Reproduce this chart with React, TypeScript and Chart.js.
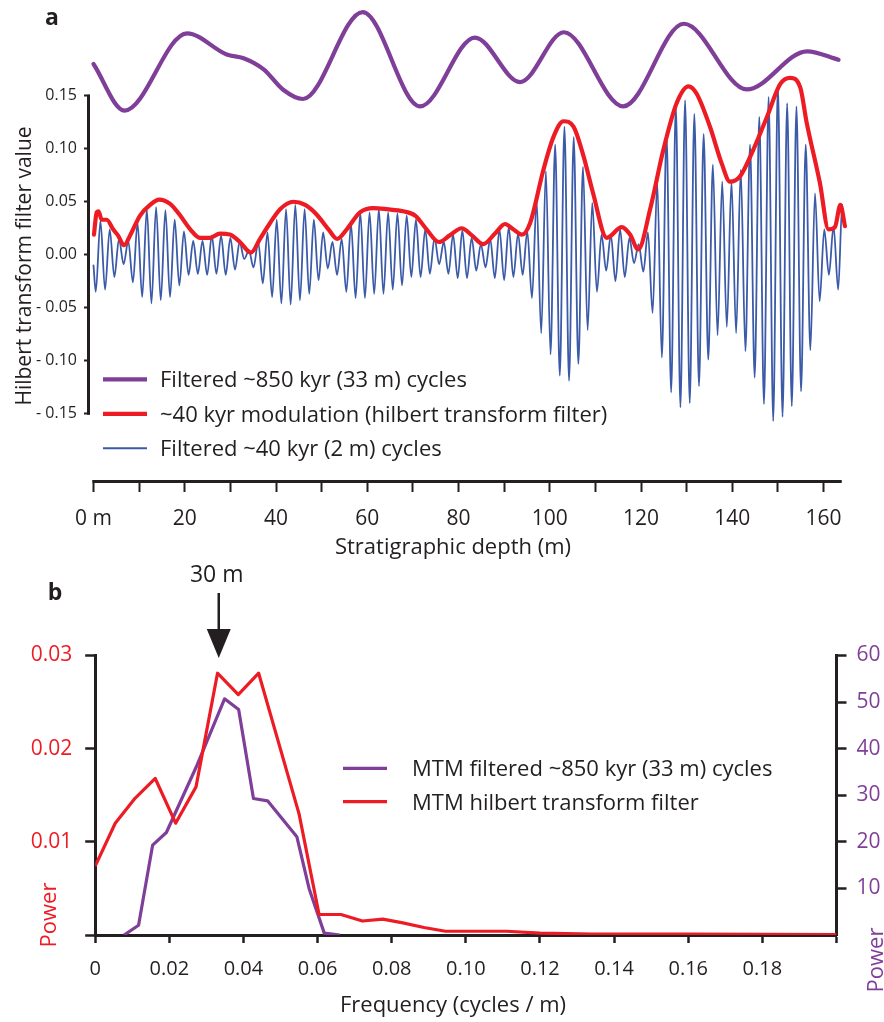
import React, { useEffect, useRef } from 'react';
import { Chart, registerables } from 'chart.js';

Chart.register(...registerables);

const INK = '#231f20';
const PURPLE = '#7f3f98';
const RED = '#ed1c24';
const BLUE = '#3b5aa8';
const FONT = '"Open Sans", Lato, "DejaVu Sans", sans-serif';

// ---------------- Panel a : filtered series vs stratigraphic depth ----------------
const purpleDepth = [0, 6.8, 20.5, 29.2, 32.9, 37.3, 41.5, 45.9, 59.0, 71.6, 83.6, 93.5, 103.1, 116.1, 129.4, 143.2, 156.4, 163.3];
const purpleValue = [0.180, 0.136, 0.209, 0.189, 0.1855, 0.175, 0.156, 0.147, 0.229, 0.140, 0.205, 0.163, 0.210, 0.140, 0.218, 0.156, 0.192, 0.184];

const redDepth = [0.1, 0.7, 1.1, 1.8, 2.9, 4.3, 5.4, 6.7, 8.0, 10.2, 12.4, 14.4, 16.8, 19.0, 21.2, 23.3, 25.5, 27.7, 29.9, 32.1, 34.5, 36.5, 38.7, 40.9, 43.8, 46.4, 48.9, 51.5, 53.4, 55.5, 58.4, 61.3, 64.3, 67.9, 70.5, 73.0, 75.7, 78.0, 80.7, 83.0, 85.4, 88.0, 90.2, 92.0, 93.9, 95.7, 98.6, 100.8, 103.0, 105.2, 107.4, 109.5, 112.5, 115.8, 117.6, 119.4, 122.0, 124.9, 127.8, 130.4, 132.2, 135.1, 137.7, 139.5, 141.7, 144.6, 147.6, 150.5, 152.7, 154.9, 156.3, 159.2, 161.1, 162.5, 163.7, 164.7];
const redValue = [0.019, 0.040, 0.041, 0.033, 0.033, 0.024, 0.018, 0.009, 0.018, 0.037, 0.047, 0.052, 0.048, 0.037, 0.024, 0.016, 0.016, 0.020, 0.019, 0.012, 0.002, 0.015, 0.030, 0.043, 0.050, 0.047, 0.038, 0.024, 0.015, 0.024, 0.040, 0.044, 0.043, 0.041, 0.037, 0.024, 0.012, 0.018, 0.025, 0.018, 0.010, 0.020, 0.029, 0.024, 0.019, 0.030, 0.080, 0.111, 0.126, 0.121, 0.093, 0.058, 0.016, 0.026, 0.019, 0.005, 0.043, 0.099, 0.143, 0.159, 0.152, 0.121, 0.086, 0.069, 0.074, 0.099, 0.130, 0.161, 0.167, 0.158, 0.125, 0.068, 0.024, 0.026, 0.047, 0.027];

const blueDepth = [0.00, 0.50, 1.52, 2.53, 3.55, 4.57, 5.59, 6.60, 7.62, 8.64, 9.65, 10.67, 11.69, 12.70, 13.72, 14.74, 15.76, 16.77, 17.79, 18.81, 19.82, 20.84, 21.86, 22.87, 23.89, 24.91, 25.93, 26.94, 27.96, 28.98, 29.99, 31.01, 32.03, 33.04, 34.06, 35.08, 36.10, 37.11, 38.13, 39.15, 40.16, 41.18, 42.20, 43.21, 44.23, 45.25, 46.27, 47.28, 48.30, 49.32, 50.33, 51.35, 52.37, 53.38, 54.40, 55.42, 56.44, 57.45, 58.47, 59.49, 60.50, 61.52, 62.54, 63.55, 64.57, 65.59, 66.61, 67.62, 68.64, 69.66, 70.67, 71.69, 72.71, 73.72, 74.74, 75.76, 76.78, 77.79, 78.81, 79.83, 80.84, 81.86, 82.88, 83.89, 84.91, 85.93, 86.95, 87.96, 88.98, 90.00, 91.01, 92.03, 93.05, 94.06, 95.08, 96.10, 97.12, 98.13, 99.15, 100.17, 101.18, 102.20, 103.22, 104.23, 105.25, 106.27, 107.29, 108.30, 109.32, 110.34, 111.35, 112.37, 113.39, 114.40, 115.42, 116.44, 117.46, 118.47, 119.49, 120.51, 121.52, 122.54, 123.56, 124.57, 125.59, 126.61, 127.63, 128.64, 129.66, 130.68, 131.69, 132.71, 133.73, 134.74, 135.76, 136.78, 137.80, 138.81, 139.83, 140.85, 141.86, 142.88, 143.90, 144.91, 145.93, 146.95, 147.97, 148.98, 150.00, 151.02, 152.03, 153.05, 154.07, 155.08, 156.10, 157.12, 158.14, 159.15, 160.17, 161.19, 162.20, 163.22, 164.10, 164.60];
const blueValue = [-0.010,
  -0.035, 0.032, -0.033, 0.024, -0.021, 0.015, -0.009, 0.013, -0.026, 0.030,
  -0.040, 0.043, -0.046, 0.045, -0.043, 0.042, -0.040, 0.033, -0.029, 0.022,
  -0.019, 0.013, -0.018, 0.013, -0.019, 0.018, -0.018, 0.018, -0.019, 0.016,
  -0.014, 0.012, -0.004, 0.004, -0.012, 0.012, -0.027, 0.021, -0.040, 0.033,
  -0.046, 0.043, -0.047, 0.047, -0.043, 0.043, -0.037, 0.033, -0.024, 0.021,
  -0.013, 0.012, -0.019, 0.015, -0.035, 0.029, -0.041, 0.040, -0.041, 0.040,
  -0.037, 0.043, -0.037, 0.040, -0.033, 0.039, -0.029, 0.037, -0.021, 0.033,
  -0.021, 0.024, -0.018, 0.016, -0.009, 0.012, -0.018, 0.019, -0.022, 0.023,
  -0.022, 0.016, -0.015, 0.010, -0.012, 0.015, -0.022, 0.024, -0.024, 0.026,
  -0.021, 0.020, -0.019, 0.022, -0.041, 0.051, -0.074, 0.079, -0.094, 0.104,
  -0.114, 0.121, -0.119, 0.111, -0.103, 0.083, -0.071, 0.049, -0.035, 0.019,
  -0.015, 0.019, -0.025, 0.024, -0.021, 0.016, -0.008, 0.010, -0.016, 0.021,
  -0.055, 0.068, -0.097, 0.114, -0.130, 0.141, -0.144, 0.146, -0.140, 0.133,
  -0.124, 0.114, -0.099, 0.085, -0.076, 0.069, -0.068, 0.069, -0.074, 0.080,
  -0.091, 0.104, -0.116, 0.130, -0.141, 0.149, -0.157, 0.160, -0.153, 0.143,
  -0.143, 0.140, -0.129, 0.104, -0.090, 0.058, -0.044, 0.024, -0.019, 0.027,
  -0.033, 0.047, 0.018];

const depthTicks = [0, 10, 20, 30, 40, 50, 60, 70, 80, 90, 100, 110, 120, 130, 140, 150, 160];
const filterTicks = [-0.15, -0.1, -0.05, 0, 0.05, 0.1, 0.15];
const legendA = ['Filtered ~850 kyr (33 m) cycles', '~40 kyr modulation (hilbert transform filter)', 'Filtered ~40 kyr (2 m) cycles'];

// ---------------- Panel b : MTM spectra ----------------
const hilbertFreq = [0, 0.0054, 0.0108, 0.0162, 0.0217, 0.0272, 0.0330, 0.0386, 0.0441, 0.0550, 0.0604, 0.0663, 0.0721, 0.0776, 0.0830, 0.0887, 0.0945, 0.1000, 0.1110, 0.1200, 0.1340, 0.1600, 0.2000];
const hilbertPower = [0.0074, 0.0120, 0.0147, 0.0168, 0.0120, 0.0159, 0.0281, 0.0258, 0.0281, 0.0130, 0.0022, 0.0022, 0.0015, 0.0017, 0.0013, 0.0008, 0.0004, 0.0004, 0.0004, 0.0002, 0.0001, 0.0001, 0.00005];
const filteredFreq = [0.0078, 0.0117, 0.0155, 0.0192, 0.0275, 0.0349, 0.0387, 0.0427, 0.0465, 0.0544, 0.0577, 0.0618, 0.0660];
const filteredPower = [0, 2.1, 19.3, 22.0, 36.5, 50.7, 48.4, 29.3, 28.8, 21.1, 10.0, 0.4, 0];

const freqTicks = [0, 0.02, 0.04, 0.06, 0.08, 0.1, 0.12, 0.14, 0.16, 0.18, 0.2];
const powerTicksLeft = [0, 0.01, 0.02, 0.03];
const powerTicksRight = [10, 20, 30, 40, 50, 60];
const legendB = ['MTM filtered ~850 kyr (33 m) cycles', 'MTM hilbert transform filter'];
const arrowFreq = 1 / 30;
const arrowLabel = '30 m';

const pts = (xs: number[], ys: number[]) => xs.map((x, i) => ({ x, y: ys[i] }));

function drawText(ctx: CanvasRenderingContext2D, str: string, x: number, y: number, size: number, color: string, align: CanvasTextAlign = 'left', weight = 'normal', rotate = 0) {
  ctx.save();
  ctx.font = `${weight} ${size}px ${FONT}`;
  ctx.fillStyle = color;
  ctx.textAlign = align;
  ctx.textBaseline = 'alphabetic';
  ctx.translate(x, y);
  if (rotate) ctx.rotate(rotate);
  ctx.fillText(str, 0, 0);
  ctx.restore();
}

function drawLine(ctx: CanvasRenderingContext2D, x1: number, y1: number, x2: number, y2: number, color: string, w: number) {
  ctx.save();
  ctx.strokeStyle = color;
  ctx.lineWidth = w;
  ctx.lineCap = 'butt';
  ctx.beginPath();
  ctx.moveTo(x1, y1);
  ctx.lineTo(x2, y2);
  ctx.stroke();
  ctx.restore();
}

const panelAPlugin = {
  id: 'panelA',
  afterDraw(chart: any) {
    const ctx = chart.ctx as CanvasRenderingContext2D;
    const { x, y } = chart.scales;
    const area = chart.chartArea;
    // axis lines (only over the labelled ranges)
    drawLine(ctx, area.left - 1.5, y.getPixelForValue(0.15) - 1, area.left - 1.5, y.getPixelForValue(-0.15) + 1, INK, 3);
    drawLine(ctx, x.getPixelForValue(0) - 1, area.bottom + 1.5, x.getPixelForValue(164), area.bottom + 1.5, INK, 3);
    // panel letter
    drawText(ctx, 'a', 52, 25, 23, INK, 'center', 'bold');
    // axis titles
    drawText(ctx, 'Hilbert transform filter value', 31, 266, 21, INK, 'center', 'normal', -Math.PI / 2);
    drawText(ctx, 'Stratigraphic depth (m)', 453, 554, 22, INK, 'center');
    // legend
    const rows = [379.3, 413.8, 448.3];
    const ds = chart.data.datasets;
    const order = [1, 0, 2];
    order.forEach((di: number, i: number) => {
      const d = ds[di];
      drawLine(ctx, 103, rows[i], 147, rows[i], d.borderColor, di === 2 ? 2 : 4.2);
      drawText(ctx, d.label, 160, rows[i] + 7.8, 22, INK, 'left');
    });
  },
};

const panelBPlugin = {
  id: 'panelB',
  afterDraw(chart: any) {
    const ctx = chart.ctx as CanvasRenderingContext2D;
    const { x } = chart.scales;
    drawText(ctx, 'b', 55, 50, 23, INK, 'center', 'bold');
    // arrow pointing at the 30 m period
    const ax = x.getPixelForValue(arrowFreq);
    drawLine(ctx, ax, 43, ax, 84, INK, 2.5);
    ctx.save();
    ctx.fillStyle = INK;
    ctx.beginPath();
    ctx.moveTo(ax - 12, 79);
    ctx.lineTo(ax + 12, 79);
    ctx.lineTo(ax, 108);
    ctx.closePath();
    ctx.fill();
    ctx.restore();
    drawText(ctx, arrowLabel, ax - 2, 31.5, 23, INK, 'center');
    // axis titles
    drawText(ctx, 'Power', 56, 365, 22, RED, 'center', 'normal', -Math.PI / 2);
    drawText(ctx, 'Power', 883, 410, 22, PURPLE, 'center', 'normal', -Math.PI / 2);
    drawText(ctx, 'Frequency (cycles / m)', 453, 462, 22, INK, 'center');
    // legend
    const rows = [218.3, 251.7];
    const ds = chart.data.datasets;
    const order = [1, 0];
    order.forEach((di: number, i: number) => {
      const d = ds[di];
      drawLine(ctx, 343, rows[i], 387, rows[i], d.borderColor, 3.2);
      drawText(ctx, d.label, 412, rows[i] + 7.8, 22, INK, 'left');
    });
  },
};

const fmtFilter = (v: number) => {
  if (Math.abs(v) < 1e-9) return '0.00';
  return v < 0 ? '- ' + Math.abs(v).toFixed(2) : v.toFixed(2);
};

export default function App() {
  const refA = useRef<HTMLCanvasElement>(null);
  const refB = useRef<HTMLCanvasElement>(null);

  useEffect(() => {
    document.body.style.margin = '0';
    // Panel a geometry: 0.00 at y=252.5, 1070 px per unit, chart area 12..480
    const yMax = (252.5 - 12) / 1070;
    const yMin = yMax - 468 / 1070;
    const chartA = new Chart(refA.current as HTMLCanvasElement, {
      type: 'line',
      data: {
        datasets: [
          { label: legendA[1], data: pts(redDepth, redValue), borderColor: RED, borderWidth: 4.2, order: 0, clip: false } as any,
          { label: legendA[0], data: pts(purpleDepth, purpleValue), borderColor: PURPLE, borderWidth: 4.2, order: 1, clip: false } as any,
          { label: legendA[2], data: pts(blueDepth, blueValue), borderColor: BLUE, borderWidth: 1.8, order: 2, clip: false } as any,
        ],
      },
      options: {
        responsive: false,
        animation: false,
        events: [],
        layout: { padding: { top: 12, right: 884 - 842, bottom: 0, left: 0 } },
        elements: {
          point: { radius: 0 },
          line: { cubicInterpolationMode: 'monotone', fill: false, borderJoinStyle: 'round', borderCapStyle: 'round' },
        },
        plugins: { legend: { display: false }, tooltip: { enabled: false } },
        scales: {
          x: {
            type: 'linear',
            position: 'bottom',
            min: -(93.5 - 90) / 4.5625,
            max: (842 - 93.5) / 4.5625,
            afterBuildTicks: (s: any) => { s.ticks = depthTicks.map((v) => ({ value: v })); },
            afterFit: (s: any) => { s.height = 580 - 480; },
            ticks: {
              autoSkip: false, maxRotation: 0, minRotation: 0, padding: 14, color: INK,
              font: { family: FONT, size: 21 },
              callback: (v: any) => (v === 0 ? '0 m' : v % 20 === 0 ? String(v) : ''),
            },
            grid: { drawOnChartArea: false, drawTicks: true, tickLength: 12, tickWidth: 2, tickColor: INK },
            border: { display: false },
          },
          y: {
            type: 'linear',
            position: 'left',
            min: yMin,
            max: yMax,
            afterBuildTicks: (s: any) => { s.ticks = filterTicks.map((v) => ({ value: v })); },
            afterFit: (s: any) => { s.width = 90; },
            ticks: { padding: 7, color: INK, font: { family: FONT, size: 16 }, callback: (v: any) => fmtFilter(v) },
            grid: { drawOnChartArea: false, drawTicks: true, tickLength: 6, tickWidth: 2, tickColor: INK },
            border: { display: false },
          },
        },
      } as any,
      plugins: [panelAPlugin],
    });

    const chartB = new Chart(refB.current as HTMLCanvasElement, {
      type: 'line',
      data: {
        datasets: [
          { label: legendB[1], data: pts(hilbertFreq, hilbertPower), borderColor: RED, borderWidth: 3.2, yAxisID: 'yL', order: 0 } as any,
          { label: legendB[0], data: pts(filteredFreq, filteredPower), borderColor: PURPLE, borderWidth: 3.2, yAxisID: 'yR', order: 1 } as any,
        ],
      },
      options: {
        responsive: false,
        animation: false,
        events: [],
        layout: { padding: { top: 655.5 - 550, right: 0, bottom: 0, left: 0 } },
        elements: { point: { radius: 0 }, line: { tension: 0, fill: false, borderJoinStyle: 'round' } },
        plugins: { legend: { display: false }, tooltip: { enabled: false } },
        scales: {
          x: {
            type: 'linear',
            position: 'bottom',
            min: 0,
            max: 0.2,
            afterBuildTicks: (s: any) => { s.ticks = freqTicks.map((v) => ({ value: v })); },
            afterFit: (s: any) => { s.height = 1022 - 935; },
            ticks: {
              autoSkip: false, maxRotation: 0, minRotation: 0, padding: 14, color: INK,
              font: { family: FONT, size: 20 },
              callback: (v: any) => (v === 0 ? '0' : v > 0.19 ? '' : Number(v).toFixed(2)),
            },
            grid: { drawOnChartArea: false, drawTicks: true, tickLength: 8, tickWidth: 2.5, tickColor: INK },
            border: { display: true, color: INK, width: 3 },
          },
          yL: {
            type: 'linear',
            position: 'left',
            min: 0,
            max: 0.03,
            afterBuildTicks: (s: any) => { s.ticks = powerTicksLeft.map((v) => ({ value: v })); },
            afterFit: (s: any) => { s.width = 95.2; },
            ticks: { padding: 13, color: RED, font: { family: FONT, size: 21 }, callback: (v: any) => (v === 0 ? '' : Number(v).toFixed(2)) },
            grid: { drawOnChartArea: false, drawTicks: true, tickLength: 10, tickWidth: 2.5, tickColor: INK },
            border: { display: true, color: INK, width: 3 },
          },
          yR: {
            type: 'linear',
            position: 'right',
            min: 0,
            max: 60,
            afterBuildTicks: (s: any) => { s.ticks = powerTicksRight.map((v) => ({ value: v })); },
            afterFit: (s: any) => { s.width = 884 - 836.5; },
            ticks: { padding: 10, color: PURPLE, font: { family: FONT, size: 21 }, callback: (v: any) => String(v) },
            grid: { drawOnChartArea: false, drawTicks: true, tickLength: 10, tickWidth: 2.5, tickColor: INK },
            border: { display: true, color: INK, width: 3 },
          },
        },
      } as any,
      plugins: [panelBPlugin],
    });

    return () => {
      chartA.destroy();
      chartB.destroy();
    };
  }, []);

  return (
    <div style={{ position: 'absolute', left: 0, top: 0, width: 884, height: 1022, overflow: 'hidden', background: '#fff' }}>
      <canvas ref={refA} width={884} height={580} style={{ position: 'absolute', left: 0, top: 0, width: 884, height: 580 }} />
      <canvas ref={refB} width={884} height={472} style={{ position: 'absolute', left: 0, top: 550, width: 884, height: 472 }} />
    </div>
  );
}
